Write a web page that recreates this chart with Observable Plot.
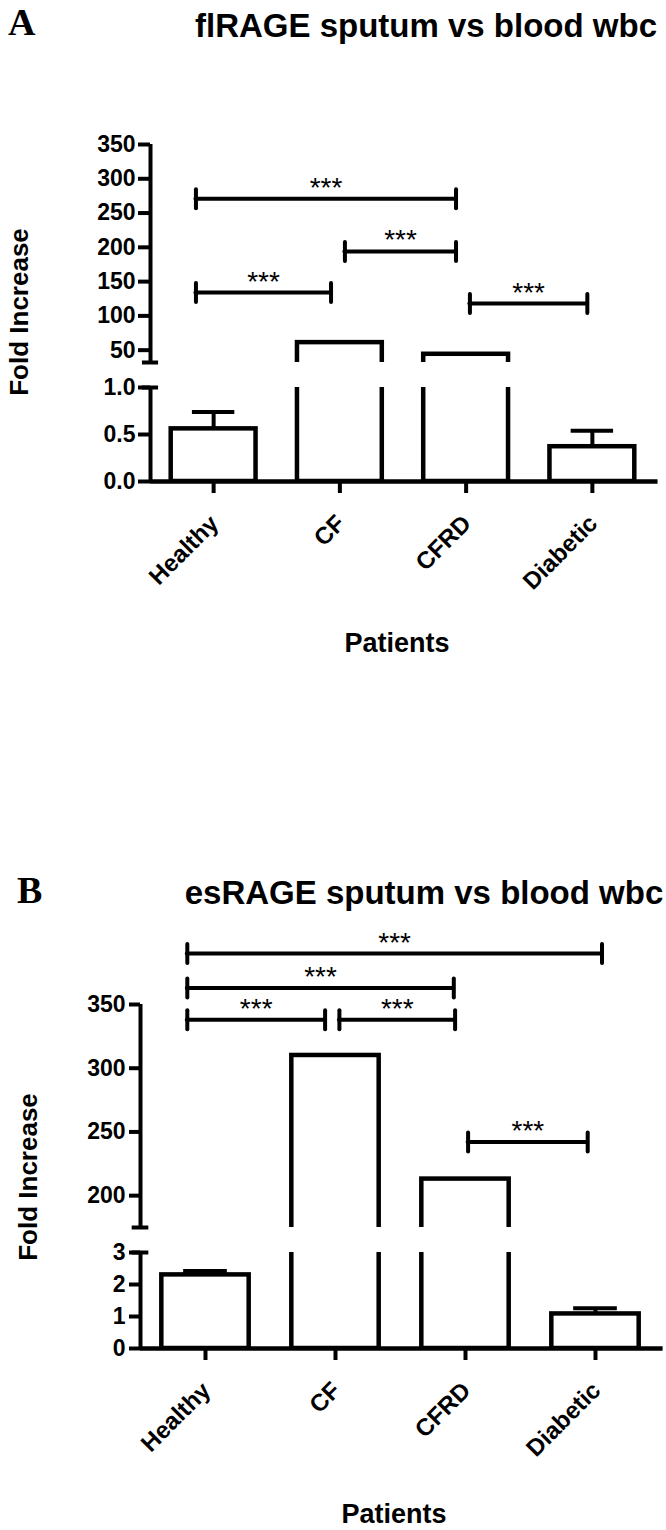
<!DOCTYPE html>
<html><head><meta charset="utf-8">
<script src="https://cdn.jsdelivr.net/npm/d3@7"></script>
<script src="https://cdn.jsdelivr.net/npm/@observablehq/plot@0.6"></script>
<style>
html,body{margin:0;padding:0;background:#fff;}
#wrap{position:relative;width:666px;height:1530px;overflow:hidden;font-family:"Liberation Sans",Arial,sans-serif;color:#000;}
#wrap > svg{position:absolute;left:0;}
</style></head><body><div id="wrap"></div>
<script>
// ---------- data ----------
const categories = ["Healthy", "CF", "CFRD", "Diabetic"];
const meanA = [0.56, 61, 44, 0.37];
const semA  = [0.18, null, null, 0.17];
const meanB = [2.30, 310, 213, 1.08];
const semB  = [0.12, null, null, 0.18];

const upperTicksA = [50, 100, 150, 200, 250, 300, 350];
const lowerTicksA = [0, 0.5, 1.0];
const upperTicksB = [200, 250, 300, 350];
const lowerTicksB = [0, 1, 2, 3];

const upperDomainA = [32, 350];
const lowerDomainA = [0, 1];
const upperDomainB = [175, 350];
const lowerDomainB = [0, 3];

// significance brackets (x in category-index units, y in data units)
const bracketFromA = [-0.14, -0.14, 1.04, 2.03];
const bracketToA   = [1.92, 0.93, 1.92, 2.96];
const bracketYA    = [271, 134, 194, 118];
const bracketFromB = [-0.14, -0.14, -0.14, 1.03, 2.02];
const bracketToB   = [3.05, 1.91, 0.92, 1.92, 2.94];
const bracketYB    = [390, 363, 338, 338, 242];
const starLabel = "***";

// ---------- helpers ----------
const FONT = "'Liberation Sans', Arial, Helvetica, sans-serif";
const HW = 0.336;      // half bar width (category units)
const CAPW = 0.168;    // half error-cap width
const BRK = 0.064;     // half width of axis break caps

const rowsA = categories.map((c, i) => ({i, cat: c, mean: meanA[i], err: semA[i]}));
const rowsB = categories.map((c, i) => ({i, cat: c, mean: meanB[i], err: semB[i]}));
const bracketsA = bracketYA.map((y, k) => ({y, from: bracketFromA[k], to: bracketToA[k]}));
const bracketsB = bracketYB.map((y, k) => ({y, from: bracketFromB[k], to: bracketToB[k]}));

const vbar = {draw(ctx, size) { const r = Math.sqrt(size / Math.PI); ctx.moveTo(0, -r); ctx.lineTo(0, r); }};

const wrap = document.getElementById("wrap");

function place(svg, top) {
  svg.style.position = "absolute";
  svg.style.top = top + "px";
  svg.style.left = "0px";
  wrap.appendChild(svg);
}

function upperSegment({top, height, marginTop, marginBottom, marginLeft, marginRight, domain, ticks, tickSize, tickPadding, rows, brackets}) {
  const ends = brackets.flatMap(b => [{x: b.from, y: b.y}, {x: b.to, y: b.y}]);
  const svg = Plot.plot({
    width: 666, height, marginTop, marginBottom, marginLeft, marginRight,
    style: {background: "transparent", overflow: "visible", fontFamily: FONT, color: "black"},
    x: {type: "linear", domain: [-0.5, 3.5], axis: null},
    y: {type: "linear", domain},
    marks: [
      Plot.rect(rows, {x1: d => d.i - HW, x2: d => d.i + HW, y1: 0, y2: "mean", fill: "white", stroke: "black", strokeWidth: 4.5, clip: true}),
      Plot.ruleX([-0.5], {y1: domain[0], y2: domain[1], stroke: "black", strokeWidth: 4}),
      Plot.ruleY([domain[0]], {x1: -0.5 - BRK, x2: -0.5 + BRK, stroke: "black", strokeWidth: 4}),
      Plot.axisY({ticks, tickSize, tickPadding, tickFormat: d3.format("d"), fontSize: 23, fontWeight: "bold", strokeWidth: 4, label: null}),
      Plot.ruleY(brackets, {y: "y", x1: "from", x2: "to", stroke: "black", strokeWidth: 4, strokeLinecap: "round"}),
      Plot.dot(ends, {x: "x", y: "y", r: 9.5, symbol: vbar, stroke: "black", fill: "none", strokeWidth: 4, strokeLinecap: "round"}),
      Plot.text(brackets, {x: d => (d.from + d.to) / 2, y: "y", text: () => starLabel, lineAnchor: "bottom", dy: -2, fontSize: 28, fontWeight: "normal", fill: "black"})
    ]
  });
  place(svg, top);
}

function lowerSegment({top, height, marginTop, marginBottom, marginLeft, marginRight, domain, ticks, tickFormat, tickSize, tickPadding, rows}) {
  const errRows = rows.filter(d => d.err != null);
  const svg = Plot.plot({
    width: 666, height, marginTop, marginBottom, marginLeft, marginRight,
    style: {background: "transparent", overflow: "visible", fontFamily: FONT, color: "black"},
    x: {type: "linear", domain: [-0.5, 3.5]},
    y: {type: "linear", domain},
    marks: [
      Plot.rect(rows, {x1: d => d.i - HW, x2: d => d.i + HW, y1: 0, y2: "mean", fill: "white", stroke: "black", strokeWidth: 4.5, clip: true}),
      Plot.ruleX(errRows, {x: "i", y1: "mean", y2: d => d.mean + d.err, stroke: "black", strokeWidth: 4}),
      Plot.ruleY(errRows, {y: d => d.mean + d.err, x1: d => d.i - CAPW, x2: d => d.i + CAPW, stroke: "black", strokeWidth: 4}),
      Plot.ruleX([-0.5], {y1: domain[0], y2: domain[1], stroke: "black", strokeWidth: 4}),
      Plot.ruleY([domain[1]], {x1: -0.5 - BRK, x2: -0.5 + BRK, stroke: "black", strokeWidth: 4}),
      Plot.ruleY([0], {x1: -0.5, x2: 3.52, stroke: "black", strokeWidth: 4.5}),
      Plot.axisY({ticks, tickSize, tickPadding, tickFormat, fontSize: 23, fontWeight: "bold", strokeWidth: 4, label: null}),
      Plot.axisX({ticks: [0, 1, 2, 3], tickSize: 12, strokeWidth: 4, tickFormat: () => "", label: null}),
      Plot.text(rows, {x: "i", y: 0, text: "cat", dy: 38, dx: 1, rotate: -45, textAnchor: "end", lineAnchor: "middle", fontSize: 24, fontWeight: "bold", fill: "black"})
    ]
  });
  place(svg, top);
}

// ---------- panel A ----------
upperSegment({top: 0, height: 372, marginTop: 144, marginBottom: 10, marginLeft: 150, marginRight: 11,
  domain: upperDomainA, ticks: upperTicksA, tickSize: 12, tickPadding: 3, rows: rowsA, brackets: bracketsA});
lowerSegment({top: 372, height: 300, marginTop: 15, marginBottom: 191, marginLeft: 150, marginRight: 11,
  domain: lowerDomainA, ticks: lowerTicksA, tickFormat: d3.format(".1f"), tickSize: 12, tickPadding: 3, rows: rowsA});

// ---------- panel B ----------
upperSegment({top: 780, height: 457, marginTop: 224, marginBottom: 10, marginLeft: 140, marginRight: 6,
  domain: upperDomainB, ticks: upperTicksB, tickSize: 11, tickPadding: 4, rows: rowsB, brackets: bracketsB});
lowerSegment({top: 1237, height: 293, marginTop: 15, marginBottom: 182, marginLeft: 140, marginRight: 6,
  domain: lowerDomainB, ticks: lowerTicksB, tickFormat: d3.format("d"), tickSize: 11, tickPadding: 4, rows: rowsB});

// ---------- titles & axis labels ----------
const labels = [
  {t: "A", x: 8, y: 35, size: 38, serif: true, anchor: "start"},
  {t: "flRAGE sputum vs blood wbc", x: 426, y: 37, size: 33, anchor: "middle"},
  {t: "Fold Increase", x: 28, y: 312, size: 26, anchor: "middle", rot: -90},
  {t: "Patients", x: 397, y: 652, size: 27, anchor: "middle"},
  {t: "B", x: 17, y: 903, size: 38, serif: true, anchor: "start"},
  {t: "esRAGE sputum vs blood wbc", x: 424, y: 904, size: 33, anchor: "middle"},
  {t: "Fold Increase", x: 37, y: 1177, size: 26, anchor: "middle", rot: -90},
  {t: "Patients", x: 394, y: 1523, size: 27, anchor: "middle"}
];
const overlay = d3.create("svg").attr("width", 666).attr("height", 1530)
  .style("position", "absolute").style("top", "0px").style("left", "0px").style("pointer-events", "none");
overlay.selectAll("text").data(labels).join("text")
  .attr("transform", d => `translate(${d.x},${d.y})` + (d.rot ? ` rotate(${d.rot})` : ""))
  .attr("text-anchor", d => d.anchor)
  .attr("font-family", d => d.serif ? "'Liberation Serif', 'Times New Roman', serif" : FONT)
  .attr("font-weight", "bold")
  .attr("font-size", d => d.size)
  .attr("fill", "black")
  .text(d => d.t);
wrap.appendChild(overlay.node());
</script></body></html>
